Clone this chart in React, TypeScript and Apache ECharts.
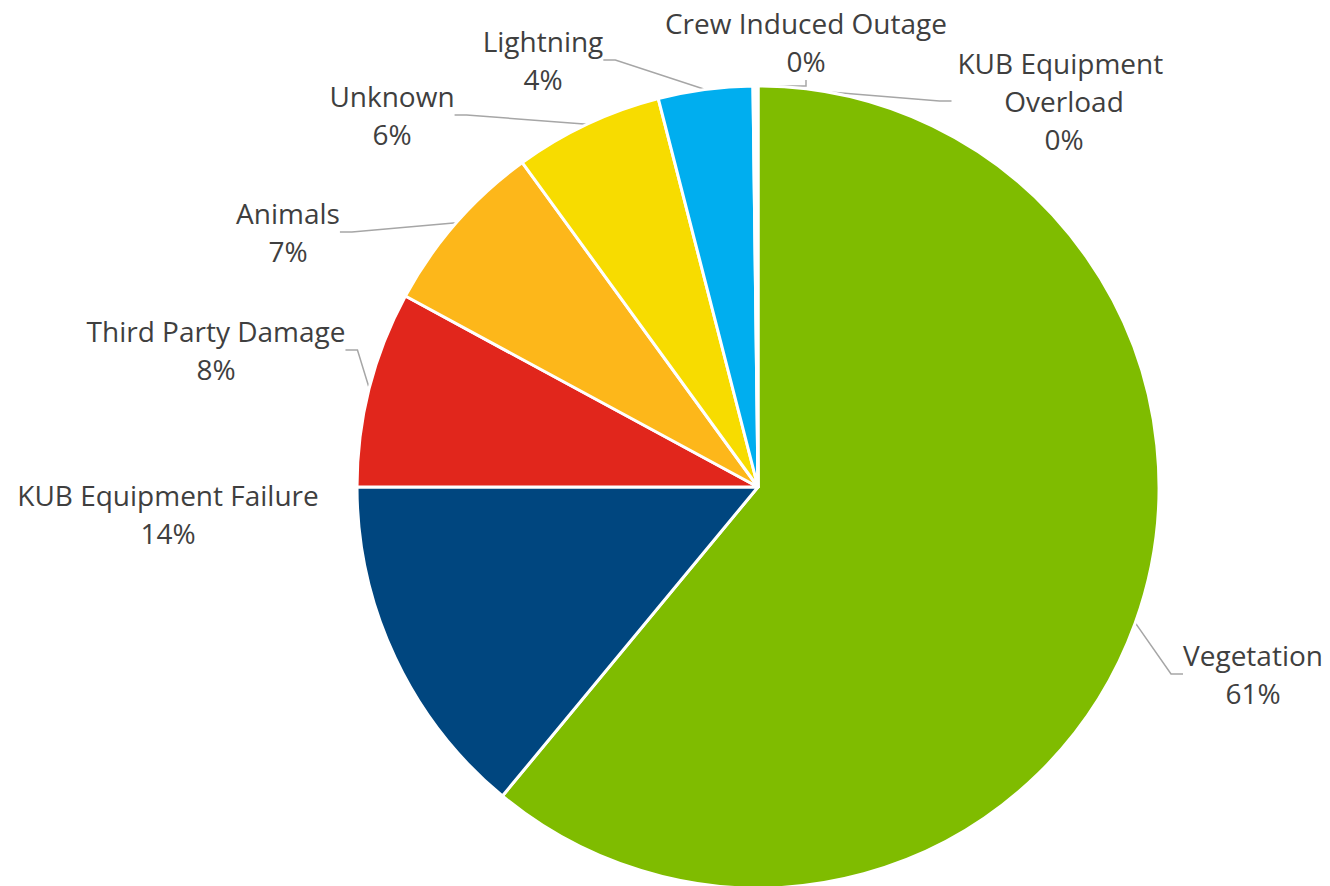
import React, { useEffect, useRef } from 'react';
import * as echarts from 'echarts';

const categories = [
  'Vegetation',
  'KUB Equipment Failure',
  'Third Party Damage',
  'Animals',
  'Unknown',
  'Lightning',
  'Crew Induced Outage',
  'KUB Equipment Overload',
];
const values = [61.0, 14.0, 7.9, 7.1, 6.0, 3.8, 0.1, 0.1];
const colors = ['#7FBC00', '#00467F', '#E1261C', '#FDB71A', '#F7DC00', '#00AEEF', '#A5A5A5', '#4472C4'];

// label block centres (layout only)
const labelCenters: number[][] = [
  [1253, 674],
  [168, 514],
  [216, 350],
  [288, 232],
  [392, 115],
  [543, 60],
  [806, 42],
  [1064, 101],
];

export default function App() {
  const ref = useRef<HTMLDivElement>(null);
  useEffect(() => {
    if (!ref.current) return;
    const chart = echarts.init(ref.current, undefined, { renderer: 'svg' });
    const data = categories.map((name, i) => {
      const item: any = { name, value: values[i], itemStyle: { color: colors[i] } };
      if (i === 1) item.labelLine = { show: false };
      if (i === 7) item.label = { width: 225, overflow: 'break' };
      return item;
    });
    chart.setOption({
      animation: false,
      backgroundColor: '#ffffff',
      series: [
        {
          type: 'pie',
          center: [758, 487],
          radius: 401,
          startAngle: 90,
          clockwise: true,
          avoidLabelOverlap: false,
          itemStyle: { borderColor: '#ffffff', borderWidth: 3 },
          label: {
            show: true,
            position: 'outside',
            fontFamily: '"Open Sans", "Noto Sans", sans-serif',
            fontSize: 28,
            lineHeight: 38,
            color: '#3F3F3F',
            align: 'center',
            formatter: (p: any) => `${p.name}\n${Math.round(p.percent)}%`,
          },
          labelLine: {
            show: true,
            length: 10,
            length2: 12,
            lineStyle: { color: '#A6A6A6', width: 1.5 },
          },
          labelLayout: (params: any) => {
            const c = labelCenters[params.dataIndex];
            return { x: c[0], y: c[1], align: 'center', verticalAlign: 'middle' };
          },
          emphasis: { disabled: true },
          data,
        },
      ],
    });
    return () => chart.dispose();
  }, []);
  return (
    <div
      ref={ref}
      style={{ position: 'fixed', left: 0, top: 0, width: 1330, height: 886, background: '#fff' }}
    />
  );
}
